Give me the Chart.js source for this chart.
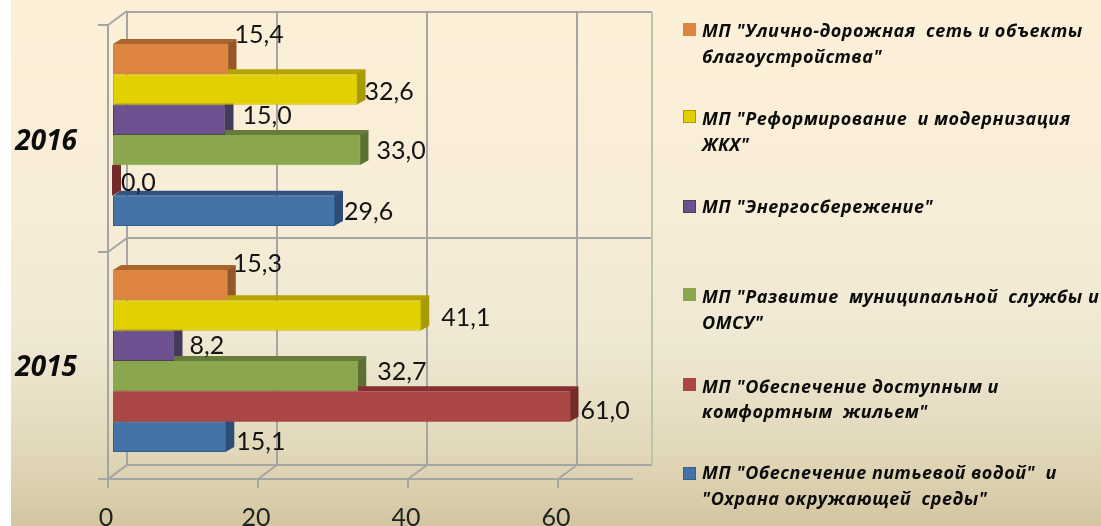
<!DOCTYPE html>
<html lang="ru">
<head>
<meta charset="utf-8">
<title>Муниципальные программы</title>
<script src="https://cdn.jsdelivr.net/npm/chart.js@4"></script>
<style>
  html,body{margin:0;padding:0;background:#fff;}
  #wrap{position:relative;width:1101px;height:526px;overflow:hidden;background:#fff;}
  #bg{position:absolute;left:11px;top:0;right:0;bottom:0;background:linear-gradient(#fdf0d9 0%,#f8edd7 40%,#efe8d2 65%,#e2d9bb 85%,#d3c6a1 100%);}
  #c{position:absolute;left:0;top:0;}
  .lg-row{position:absolute;left:702px;font:italic 700 18px/26px "Open Sans",sans-serif;color:#0c0c0c;white-space:pre;letter-spacing:.5px;}
  .lg-box{position:absolute;left:683px;width:13px;height:13px;box-sizing:border-box;}
</style>
</head>
<body>
<div id="wrap">
  <div id="bg"></div>
  <canvas id="c" width="1101" height="526"></canvas>
  <div id="legend"></div>
</div>
<script>
const YEARS = ['2016','2015'];
const PROGRAMS = [
  ['МП "Улично-дорожная  сеть и объекты','благоустройства"'],
  ['МП "Реформирование  и модернизация','ЖКХ"'],
  ['МП "Энергосбережение"'],
  ['МП "Развитие  муниципальной  службы и','ОМСУ"'],
  ['МП "Обеспечение доступным и','комфортным  жильем"'],
  ['МП "Обеспечение питьевой водой"  и','"Охрана окружающей  среды"'],
];
const ROAD    = [15.4, 15.3];
const HOUSING = [32.6, 41.1];
const ENERGY  = [15.0, 8.2];
const SERVICE = [33.0, 32.7];
const AFFORD  = [0.0, 61.0];
const WATER   = [29.6, 15.1];
const SERIES  = [ROAD, HOUSING, ENERGY, SERVICE, AFFORD, WATER];

const FRONT = ['#dc8440','#e2d000','#6c5090','#8aa74e','#aa4643','#4572a7'];
const EDGE  = ['#dc8440','#c9b900','#4a4450','#8aa74e','#aa4643','#2f5f99'];
const TOP   = ['#a9652f','#b5a400','#5b4678','#667d3a','#852f32','#2f5484'];
const SIDE  = ['#95572a','#a89a00','#443a5c','#5c7035','#742c2a','#2c4d76'];

// label nudges (dx, dy from the end of the bar), the original was placed by hand
const LABEL_NUDGE = [
  [[6,-24],[5,-21]],
  [[7,2],[20,2]],
  [[17,-4],[15,0]],
  [[16,1],[19,-4]],
  [[8,2],[10,4]],
  [[9,1],[10,5]],
];

const DX = 8, DY = 5;
const GRID = '#a5a5a3';

const grid3d = {
  id:'grid3d',
  beforeDatasetsDraw(chart){
    const c = chart.ctx, x = chart.scales.x, a = chart.chartArea;
    const top = a.top-10, bot = a.bottom+5, mid = (a.top+a.bottom)/2;
    const fx = v => x.getPixelForValue(v)-5, bx = v => x.getPixelForValue(v)+14;
    c.save();
    c.strokeStyle = GRID; c.lineWidth = 2;
    const line = (x1,y1,x2,y2) => { c.beginPath(); c.moveTo(x1,y1); c.lineTo(x2,y2); c.stroke(); };
    // back wall
    [top,mid-10,bot-14].forEach(y => line(bx(0),y,bx(70),y));
    [0,20,40,60].forEach(v => line(bx(v),top,bx(v),bot-14));
    c.strokeStyle = '#bcc5a6';
    line(bx(70),top,bx(70),bot-14);
    // left wall and floor
    c.strokeStyle = GRID;
    line(fx(0),top+13,fx(0),bot);
    [top+13,mid+4,bot].forEach(y => {
      line(fx(0),y,bx(0),y-14);
      line(fx(0)-10,y,fx(0),y);
    });
    line(fx(0),bot,fx(70),bot);
    [0,20,40,60].forEach(v => {
      line(fx(v),bot,bx(v),bot-14);
      line(fx(v),bot,fx(v),bot+9);
    });
    // top and side faces of the bars
    chart.data.datasets.forEach((ds,i) => {
      chart.getDatasetMeta(i).data.forEach(b => {
        const l = b.base, r = b.x, t = b.y-b.height/2, u = b.y+b.height/2;
        c.fillStyle = TOP[i];
        c.beginPath(); c.moveTo(l,t); c.lineTo(l+DX,t-DY); c.lineTo(r+DX,t-DY); c.lineTo(r,t); c.closePath(); c.fill();
        c.fillStyle = SIDE[i];
        c.beginPath(); c.moveTo(r-1,t); c.lineTo(r+DX,t-DY); c.lineTo(r+DX,u-DY); c.lineTo(r-1,u); c.closePath(); c.fill();
      });
    });
    c.restore();
  },
  afterDatasetsDraw(chart){
    const c = chart.ctx;
    c.save();
    c.font = '25px Lato';
    c.fillStyle = '#141414';
    c.textAlign = 'left';
    c.textBaseline = 'middle';
    chart.data.datasets.forEach((ds,i) => {
      chart.getDatasetMeta(i).data.forEach((b,j) => {
        const n = LABEL_NUDGE[i][j];
        c.fillText(ds.data[j].toFixed(1).replace('.',','), b.x+n[0], b.y+n[1]);
      });
    });
    c.restore();
  }
};

new Chart(document.getElementById('c'),{
  type:'bar',
  data:{
    labels:YEARS,
    datasets:SERIES.map((d,i)=>({
      label:PROGRAMS[i].join(' '),
      data:d,
      backgroundColor:FRONT[i],
      borderColor:EDGE[i],
      borderWidth:d[0]===0?0:1,
      borderSkipped:false,
      categoryPercentage:.805,
      barPercentage:1
    }))
  },
  plugins:[grid3d],
  options:{
    indexAxis:'y',
    responsive:false,
    animation:false,
    layout:{padding:{top:22,right:463,left:0,bottom:0}},
    plugins:{legend:{display:false},tooltip:{enabled:false}},
    scales:{
      x:{
        min:0,max:70,
        afterFit(s){ s.height = 52; },
        grid:{display:false},
        border:{display:false},
        ticks:{stepSize:20,padding:21,labelOffset:-7,color:'#222',font:{family:'Lato',size:25},maxRotation:0,
          callback:v=>v<=60?v:''}
      },
      y:{
        afterFit(s){ s.width = 113; s.paddingTop = 0; s.paddingBottom = 0; },
        grid:{display:false},
        border:{display:false},
        ticks:{color:'#0c0c0c',padding:28,labelOffset:7,font:{family:'Open Sans',size:28,weight:'bold',style:'italic'}}
      }
    }
  }
});

// legend on the right, html so the two-line entries wrap like the original
const ROW_TOPS = [[17,43],[105,131],[193],[283,309],[373,398],[459,485]];
const BOX_TOPS = [23,110,200,288,378,467];
const BOX_EDGE = ['#dc8440','#a89a00','#4a4450','#8aa74e','#aa4643','#2f5f99'];
document.getElementById('legend').innerHTML = PROGRAMS.map((rows,i)=>
  rows.map((t,k)=>`<div class="lg-row" style="top:${ROW_TOPS[i][k]}px">${t}</div>`).join('')+
  `<div class="lg-box" style="top:${BOX_TOPS[i]}px;background:${FRONT[i]};border:1px solid ${BOX_EDGE[i]}"></div>`
).join('');
</script>
</body>
</html>
